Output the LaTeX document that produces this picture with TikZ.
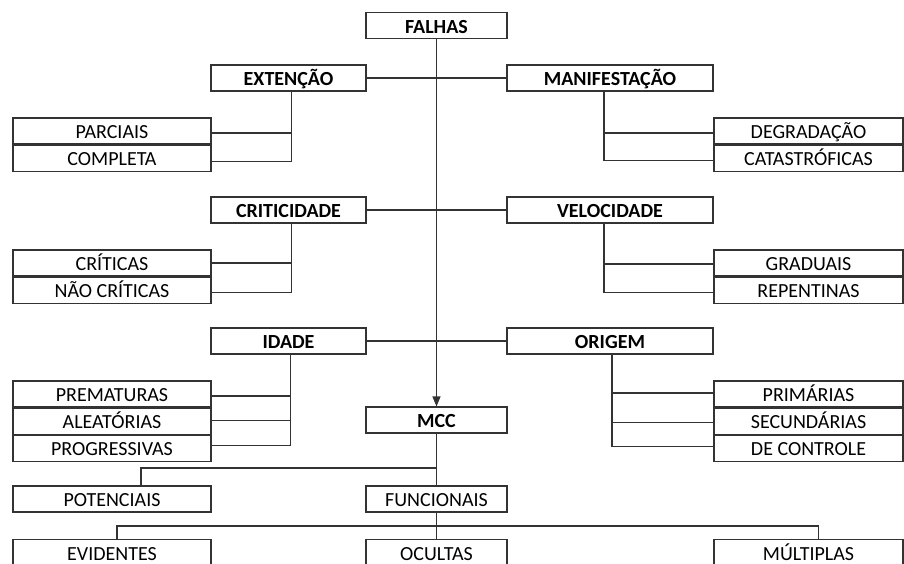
\documentclass[tikz,border=0pt]{standalone}
\usepackage{fontspec}
\setmainfont{Carlito}
\usetikzlibrary{positioning,calc,arrows.meta}

\begin{document}
\begin{tikzpicture}[x=1pt, y=-1pt,
		box/.style={rectangle, draw=black!80, line width=1.1pt, minimum height=26pt, inner sep=0pt, text height=15pt, text depth=0pt, font=\fontsize{20}{20}\selectfont},
		sbox/.style={box, minimum width=198pt},
		rbox/.style={box, minimum width=189pt},
		cbox/.style={box, minimum width=141pt},
		lbox/.style={box, minimum width=155pt, font=\fontsize{20}{20}\selectfont\bfseries},
		mbox/.style={box, minimum width=206pt, font=\fontsize{20}{20}\selectfont\bfseries},
		link/.style={draw=black!80, line width=1.1pt}]
	\useasboundingbox (0,0) rectangle (904,563);
	\clip (0,0) rectangle (904,563);
	% topo e eixo central
	\node[cbox, font=\fontsize{20}{20}\selectfont\bfseries] (falhas) at (436.5,25.5) {FALHAS};
	\node[cbox, font=\fontsize{20}{20}\selectfont\bfseries] (mcc) at (436.5,420) {MCC};
	\draw[link, -{Triangle[length=10pt,width=8pt]}] (falhas) -- (mcc);
	% categorias
	\node[lbox] (ext)  at (288.5,78)  {EXTENÇÃO};
	\node[mbox] (man)  at (610,78)    {MANIFESTAÇÃO};
	\node[lbox] (crit) at (288.5,210) {CRITICIDADE};
	\node[mbox] (vel)  at (610,210)   {VELOCIDADE};
	\node[lbox] (ida)  at (288.5,341) {IDADE};
	\node[mbox] (ori)  at (610,341)   {ORIGEM};
	\draw[link] (ext) -- (man);
	\draw[link] (crit) -- (vel);
	\draw[link] (ida) -- (ori);
	% pontos de descida
	\coordinate (extd)  at ([xshift=3pt]ext.south);
	\coordinate (mand)  at ([xshift=-6pt]man.south);
	\coordinate (critd) at ([xshift=3pt]crit.south);
	\coordinate (veld)  at ([xshift=-6pt]vel.south);
	\coordinate (idad)  at ([xshift=2pt]ida.south);
	\coordinate (orid)  at ([xshift=2pt]ori.south);
	% extenção
	\node[sbox] (parc) at (112,131) {PARCIAIS};
	\node[sbox, below=0pt of parc] (comp) {COMPLETA};
	\draw[link] (extd) |- ([yshift=-3pt]comp.east);
	\draw[link] ([yshift=-2pt]parc.east) -- ([yshift=-2pt]parc.east -| extd);
	% manifestação
	\node[rbox] (deg) at (808.5,131) {DEGRADAÇÃO};
	\node[rbox, below=0pt of deg] (cat) {CATASTRÓFICAS};
	\draw[link] (mand) |- ([yshift=-2pt]cat.west);
	\draw[link] ([yshift=-2pt]deg.west) -- ([yshift=-2pt]deg.west -| mand);
	% criticidade
	\node[sbox] (crs) at (112,263) {CRÍTICAS};
	\node[sbox, below=0pt of crs] (ncr) {NÃO CRÍTICAS};
	\draw[link] (critd) |- ([yshift=-2pt]ncr.east);
	\draw[link] (crs.east) -- (crs.east -| critd);
	% velocidade
	\node[rbox] (grad) at (808.5,263) {GRADUAIS};
	\node[rbox, below=0pt of grad] (rep) {REPENTINAS};
	\draw[link] (veld) |- ([yshift=-2pt]rep.west);
	\draw[link] ([yshift=-1pt]grad.west) -- ([yshift=-1pt]grad.west -| veld);
	% idade
	\node[sbox] (pre) at (112,394) {PREMATURAS};
	\node[sbox, below=0pt of pre] (ale) {ALEATÓRIAS};
	\node[sbox, below=0pt of ale] (pro) {PROGRESSIVAS};
	\draw[link] (idad) |- ([yshift=3pt]pro.east);
	\foreach \n/\d in {pre/-2, ale/1}
		\draw[link] ([yshift=\d pt]\n.east) -- ([yshift=\d pt]\n.east -| idad);
	% origem
	\node[rbox] (pri) at (808.5,394) {PRIMÁRIAS};
	\node[rbox, below=0pt of pri] (sec) {SECUNDÁRIAS};
	\node[rbox, below=0pt of sec] (ctl) {DE CONTROLE};
	\draw[link] (orid) |- ([yshift=2pt]ctl.west);
	\foreach \n/\d in {pri/1, sec/-1}
		\draw[link] ([yshift=\d pt]\n.west) -- ([yshift=\d pt]\n.west -| orid);
	% mcc
	\node[sbox] (pot) at (112,499) {POTENCIAIS};
	\node[cbox] (fun) at (436.5,499) {FUNCIONAIS};
	\coordinate (j1) at (436.5,468);
	\draw[link] (mcc) -- (fun);
	\draw[link] (j1) -| ([xshift=29pt]pot.north);
	% funcionais
	\node[sbox, anchor=north] (evi) at (112,539) {EVIDENTES};
	\node[cbox, anchor=north] (ocu) at (436.5,539) {OCULTAS};
	\node[rbox, anchor=north] (mul) at (808.5,539) {MÚLTIPLAS};
	\coordinate (j2) at (436.5,526);
	\draw[link] (fun) -- (ocu);
	\draw[link] (j2) -| ([xshift=5pt]evi.north);
	\draw[link] (j2) -| ([xshift=10pt]mul.north);
\end{tikzpicture}
\end{document}
